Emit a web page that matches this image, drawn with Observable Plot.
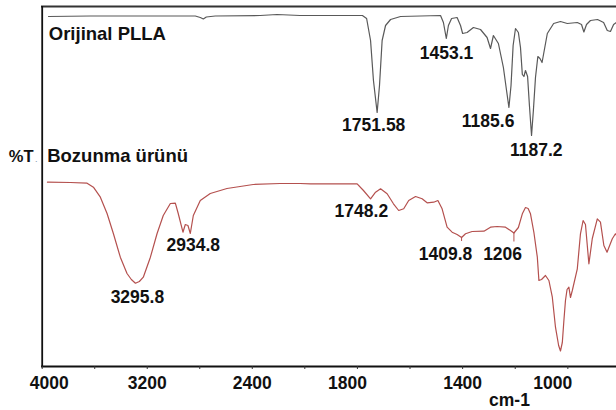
<!DOCTYPE html>
<html>
<head>
<meta charset="utf-8">
<script src="https://cdn.jsdelivr.net/npm/d3@7"></script>
<script src="https://cdn.jsdelivr.net/npm/@observablehq/plot@0.6"></script>
<style>
  html, body { margin: 0; padding: 0; background: #ffffff; }
  #chart svg { display: block; font-family: "Liberation Sans", Arial, sans-serif; }
</style>
</head>
<body>
<div id="chart"></div>
<script>
// Wavenumbers (cm-1) and relative transmittance (arbitrary %T units, stacked traces)
const plaWn = [3952,3633,3176,2834,2796,2773,2750,2682,2340,2211,2036,1978,1781,1765,1750,1739,1725,1716,1706,1693,1674,1636,1484,1473,1462,1454,1442,1421,1408,1400,1383,1359,1332,1307,1294,1283,1264,1245,1233,1224,1216,1208,1199,1188,1180,1173,1167,1161,1153,1146,1138,1131,1123,1114,1106,1098,1078,1054,1028,1002,964,948,939,929,914,887,864,850,838,826,815];
const plaT  = [350,350.5,350.5,350.5,349,347.5,349.5,350.5,351,352,351,351,351,348,326,286,254,281,326,341,347,350,351,344,328,341,348,349,341,333,334,339,337,329,318,331,323,299,276,259,281,321,338,334,319,292,290,296,290,261,231,256,289,310,308,304,333,343,345,343,344,342,334.5,342,346,347,344,336,335,342,344];

const degWn = [3960,3785,3658,3610,3557,3506,3458,3405,3354,3321,3290,3260,3230,3176,3125,3078,3024,2986,2964,2928,2910,2890,2872,2849,2796,2720,2593,2393,2188,2036,1978,1801,1777,1750,1731,1712,1687,1663,1643,1624,1605,1579,1554,1535,1510,1494,1478,1459,1440,1421,1404,1389,1364,1319,1294,1269,1237,1218,1205,1188,1173,1161,1151,1142,1129,1116,1110,1100,1085,1072,1059,1047,1035,1028,1021,1015,1009,1003,996,990,983,964,952,942,933,920,907,888,876,863,851,831,819,815];
const degT  = [184.3,184,183.3,179.3,169.3,153,133,109.3,93,87,83.3,85,89.3,109.3,133,151,163,163.3,153,134.3,142,141,133,151,166,173,178,182,183,183,182.7,182.7,176,167.7,174.3,177.7,172.7,162.7,156,157.7,166,170,167.7,163.7,164.3,166,157.7,139.3,134.3,132,129,132.7,135,135.3,139.3,140,139.3,136,133.5,139,152.7,159,158,152.7,134,109.3,86,87,91,86,69.3,39.3,21,15.5,24,46,66,77,79.3,69,76,97.7,132.7,146,142,102.7,128,147.7,144.3,121,114.3,127.7,132.7,131];

// Peak annotations
const plaLabels = ["1751.58","1453.1","1185.6","1187.2"];
const plaLabelWn = [1738,1461,1303,1120];
const plaLabelT  = [236,307.7,240,211];

const degLabels = ["3295.8","2934.8","1748.2","1409.8","1206"];
const degLabelWn = [3275,2849,1785,1465,1248];
const degLabelT  = [63.7,115.3,149.3,107,107];

// Peak marker lines
const markerWn = [1404,1205];
const markerT1 = [129,133.5];
const markerT2 = [125,124.5];

// Series titles
const seriesNames = ["Orijinal PLLA","Bozunma ürünü"];
const seriesNameWn = [3950,3962];
const seriesNameT  = [326.5,205];
const yLabel = "%T";
const xLabel = "cm-1";

// Axis ticks
const tickMarks = [4000,3600,3200,2800,2400,2000,1800,1600,1400,1200,1000];
const tickLabels = [4000,3200,2400,1800,1400,1000];

const pla = plaWn.map((w,i) => ({w, t: plaT[i]}));
const deg = degWn.map((w,i) => ({w, t: degT[i]}));
const plaAnn = plaLabels.map((s,i) => ({s, w: plaLabelWn[i], t: plaLabelT[i]}));
const degAnn = degLabels.map((s,i) => ({s, w: degLabelWn[i], t: degLabelT[i]}));
const markers = markerWn.map((w,i) => ({w, t1: markerT1[i], t2: markerT2[i]}));
const names = seriesNames.map((s,i) => ({s, w: seriesNameWn[i], t: seriesNameT[i]}));

const FONT = "Liberation Sans, Arial, sans-serif";
const labelShift = {4000: 7, 1800: -10, 1000: -15};

const tickLabelMarks = tickLabels.map(v => Plot.text([v], {
  x: d => d, frameAnchor: "bottom", lineAnchor: "bottom", dy: 22,
  dx: labelShift[v] || 0, text: d => String(d),
  fontSize: 17.5, fontWeight: "bold", fill: "#111", fontFamily: FONT
}));

const chart = Plot.plot({
  width: 616,
  height: 410,
  marginTop: 6,
  marginRight: 0,
  marginBottom: 44,
  marginLeft: 41,
  style: {background: "#ffffff", fontFamily: FONT, overflow: "visible"},
  x: {type: "linear", domain: [4000, 2000, 815], range: [41.7, 304.3, 616], label: null},
  y: {domain: [0, 360], label: null},
  marks: [
    Plot.line(pla, {x: "w", y: "t", stroke: "#595959", strokeWidth: 1.2}),
    Plot.line(deg, {x: "w", y: "t", stroke: "#b4504e", strokeWidth: 1.2}),
    Plot.ruleX(markers, {x: "w", y1: "t1", y2: "t2", stroke: "#b4504e", strokeWidth: 1}),
    Plot.ruleY([360], {stroke: "#333", strokeWidth: 2}),
    Plot.ruleY([0], {stroke: "#111", strokeWidth: 1.8}),
    Plot.ruleX([4000], {stroke: "#111", strokeWidth: 1.8}),
    Plot.axisX({ticks: tickMarks, tickSize: 3, tickFormat: () => "", stroke: "#333", label: null}),
    Plot.axisY({ticks: [], label: null}),
    ...tickLabelMarks,
    Plot.text([xLabel], {frameAnchor: "bottom-right", lineAnchor: "bottom", textAnchor: "middle", dx: -107, dy: 39,
      fontSize: 17.5, fontWeight: "bold", fill: "#111", fontFamily: FONT}),
    Plot.text(plaAnn, {x: "w", y: "t", text: "s", lineAnchor: "bottom", textAnchor: "middle",
      fontSize: 17.5, fontWeight: "bold", fill: "#111", fontFamily: FONT}),
    Plot.text(degAnn, {x: "w", y: "t", text: "s", lineAnchor: "bottom", textAnchor: "middle",
      fontSize: 17.5, fontWeight: "bold", fill: "#111", fontFamily: FONT}),
    Plot.text(names, {x: "w", y: "t", text: "s", lineAnchor: "bottom", textAnchor: "start",
      fontSize: 18.5, fontWeight: "bold", fill: "#111", fontFamily: FONT}),
    Plot.text([yLabel], {frameAnchor: "left", y: () => seriesNameT[1], lineAnchor: "bottom", textAnchor: "end", dx: -8,
      fontSize: 16.5, fontWeight: "bold", fill: "#111", fontFamily: FONT}),
    Plot.text(["."], {frameAnchor: "left", y: () => seriesNameT[1], lineAnchor: "bottom", textAnchor: "end", dx: -4,
      fontSize: 9, fill: "#7f93a8", fontFamily: FONT})
  ]
});
document.getElementById("chart").appendChild(chart);
</script>
</body>
</html>
